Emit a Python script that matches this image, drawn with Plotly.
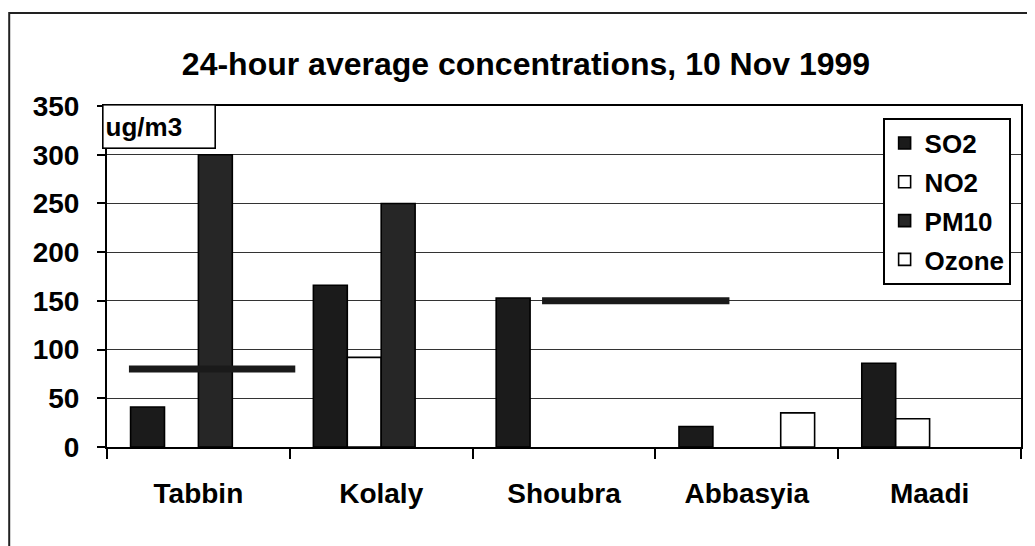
import plotly.graph_objects as go

# ---------------- data ----------------
stations = ["Tabbin", "Kolaly", "Shoubra", "Abbasyia", "Maadi"]
so2 = [41, 166, 153, 21, 86]
no2 = [None, 92, None, None, 29]
pm10 = [300, 250, None, None, None]
ozone = [None, None, None, 35, None]

# reference (limit) levels drawn as thick horizontal bars
limit_values = [80, 150]
# extent of each limit bar along the category axis (category-index units)
limit_x0 = [-0.38, 1.88]
limit_x1 = [0.53, 2.905]

y_ticks = [0, 50, 100, 150, 200, 250, 300, 350]
title_text = "24-hour average concentrations, 10 Nov 1999"
unit_text = "ug/m3"

# ---------------- layout constants ----------------
OFF = 8  # page body margin in the browser
W, H = 1035 - OFF, 546 - OFF
# plot area in window pixels: x 107..1023, y 106..447
ML, MT = 107 - OFF, 106 - OFF
MR = 1035 - 1023
MB = 546 - 447
PW = W - ML - MR
PH = H - MT - MB
FONT = "Liberation Sans, Arial, sans-serif"


def px_x(px):
    # window pixel -> paper x
    return (px - OFF - ML) / PW


def px_y(py):
    # window pixel -> paper y
    return (MT + PH - (py - OFF)) / PH


fig = go.Figure()

series = [
    ("SO2", so2, "#1b1b1b"),
    ("NO2", no2, "#ffffff"),
    ("PM10", pm10, "#262626"),
    ("Ozone", ozone, "#ffffff"),
]
for name, vals, col in series:
    fig.add_trace(go.Bar(
        x=stations, y=vals, name="<b>%s</b>" % name, legendgroup=name,
        marker=dict(color=col, line=dict(color="#000000", width=1.6)),
    ))

# limit bars
for v, a, b in zip(limit_values, limit_x0, limit_x1):
    fig.add_shape(type="line", xref="x", yref="y", x0=a, x1=b, y0=v, y1=v,
                  line=dict(color="#1a1a1a", width=7), layer="above")

# outer frame
fig.add_shape(type="rect", xref="paper", yref="paper",
              x0=px_x(9), x1=px_x(1033), y0=px_y(560), y1=px_y(13),
              line=dict(color="#222222", width=2), fillcolor="rgba(0,0,0,0)",
              layer="below")

# unit box
fig.add_annotation(xref="paper", yref="paper", x=px_x(102), y=px_y(104),
                   xanchor="left", yanchor="top", text="<b>%s</b>" % unit_text,
                   showarrow=False, align="left", valign="middle",
                   width=107, height=38, borderpad=2, borderwidth=1.6,
                   bordercolor="#000000", bgcolor="#ffffff",
                   font=dict(family=FONT, size=26, color="#000000"))

fig.update_layout(
    width=W, height=H, autosize=False,
    margin=dict(l=ML, r=MR, t=MT, b=MB),
    paper_bgcolor="#ffffff", plot_bgcolor="#ffffff",
    font=dict(family=FONT, color="#000000"),
    title=dict(text="<b>%s</b>" % title_text, xref="container", yref="container",
               x=(526 - OFF) / W, y=1 - (64 - OFF) / H, xanchor="center",
               yanchor="middle",
               font=dict(family=FONT, size=32, color="#000000")),
    barmode="group", bargap=0.258, bargroupgap=0,
    showlegend=True,
    legend=dict(x=px_x(1013), y=px_y(118), xanchor="right", yanchor="top",
                bordercolor="#000000", borderwidth=1.6, bgcolor="#ffffff",
                font=dict(family=FONT, size=26, color="#000000"),
                traceorder="grouped", tracegroupgap=2, itemwidth=30),
    xaxis=dict(type="category", showline=True, linecolor="#000000", linewidth=2,
               mirror=True, ticks="outside", ticklen=10, tickwidth=1.5,
               tickcolor="#000000", tickson="boundaries", showgrid=False,
               tickfont=dict(family=FONT, size=28, color="#000000"),
               ticklabelstandoff=20, range=[-0.5, 4.5]),
    yaxis=dict(range=[0, 350], tickvals=y_ticks,
               ticktext=["<b>%d</b>" % t for t in y_ticks],
               showline=True, linecolor="#000000", linewidth=2, mirror=True,
               ticks="outside", ticklen=8, tickwidth=1.5, tickcolor="#000000",
               showgrid=True, gridcolor="#333333", gridwidth=1.4,
               zeroline=False,
               tickfont=dict(family=FONT, size=28, color="#000000"),
               ticklabelstandoff=12),
)
fig.update_xaxes(ticktext=["<b>%s</b>" % s for s in stations], tickvals=stations)

fig.write_html("out.html")
